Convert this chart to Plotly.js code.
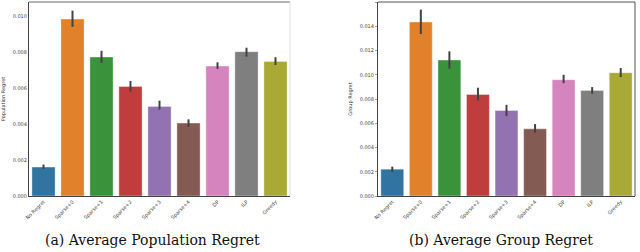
<!DOCTYPE html>
<html><head><meta charset="utf-8">
<script src="https://cdn.plot.ly/plotly-3.0.1.min.js"></script>
<style>html,body{margin:0;padding:0;background:#fff}#c{width:640px;height:252px}</style>
</head><body><div id="c"></div>
<script>
const categories = ["No Regret","Sparse+0","Sparse+1","Sparse+2","Sparse+3","Sparse+4","DP","ILP","Greedy"];
const colors = ["#3274a1","#e1812c","#3a923a","#c03d3e","#9372b2","#845b53","#d684bd","#7f7f7f","#a9aa35"];
const popMean = [0.00161,0.00983,0.00772,0.00609,0.00498,0.00405,0.00722,0.00802,0.00748];
const popHi   = [0.00175,0.01030,0.00807,0.00639,0.00530,0.00426,0.00743,0.00824,0.00771];
const popLo   = [0.00150,0.00940,0.00740,0.00580,0.00480,0.00385,0.00706,0.00774,0.00728];
const grpMean = [0.00221,0.01435,0.01121,0.00837,0.00705,0.00554,0.00959,0.00870,0.01017];
const grpHi   = [0.00242,0.01537,0.01193,0.00893,0.00752,0.00593,0.01000,0.00898,0.01055];
const grpLo   = [0.00198,0.01336,0.01050,0.00788,0.00659,0.00523,0.00931,0.00843,0.00981];
const popTicks = [0,0.002,0.004,0.006,0.008,0.010];
const grpTicks = [0,0.002,0.004,0.006,0.008,0.010,0.012,0.014,0.016];

function bar(mean, hi, lo, xa, ya){
  return {type:'bar', x:categories, y:mean, xaxis:xa, yaxis:ya,
    marker:{color:colors, line:{color:'rgba(255,255,255,0.6)', width:0.6}},
    width:0.8,
    error_y:{type:'data', symmetric:false,
      array:hi.map((h,i)=>h-mean[i]), arrayminus:mean.map((m,i)=>m-lo[i]),
      color:'#424242', thickness:2, width:0},
    hoverinfo:'none'};
}
const tickFont = {family:'DejaVu Sans, sans-serif', size:5, color:'#444'};
const axX = (dom, anchor)=>({domain:dom, anchor:anchor, type:'category', tickangle:-45,
  tickfont:tickFont, showline:true, linecolor:'#444', linewidth:1, mirror:false,
  ticks:'', showgrid:false, zeroline:false, range:[-0.5,8.5], fixedrange:true});
const axY = (dom, anchor, rng, tv, ttl, ticklen)=>({domain:dom, anchor:anchor, range:rng,
  tickvals:tv, ticktext:tv.map(v=>v.toFixed(3)), tickfont:tickFont,
  showline:true, linecolor:'#444', linewidth:1, showgrid:false, zeroline:false,
  ticks: ticklen? 'outside':'', ticklen:ticklen, tickcolor:'#666', tickwidth:0.6,
  title:{text:ttl, font:{family:'DejaVu Sans, sans-serif', size:5, color:'#333'}, standoff:6}});

const layout = {
  width:640, height:252, margin:{l:0,r:0,t:0,b:0}, showlegend:false,
  paper_bgcolor:'#fff', plot_bgcolor:'#fff', bargap:0.2,
  xaxis: axX([29/640, 290/640], 'y'),
  yaxis: axY([1-196/252, 1-2/252], 'x', [0,0.01078], popTicks, 'Population Regret', 0),
  xaxis2: axX([378/640, 635/640], 'y2'),
  yaxis2: axY([1-196/252, 1-2/252], 'x2', [0,0.016], grpTicks, 'Group Regret', 2),
  shapes:[
    {type:'line', xref:'paper', yref:'paper', x0:29/640, x1:290/640, y0:1-2/252, y1:1-2/252, line:{color:'#666', width:1}},
    {type:'line', xref:'paper', yref:'paper', x0:290/640, x1:290/640, y0:1-2/252, y1:1-196/252, line:{color:'#ddd', width:1}},
    {type:'line', xref:'paper', yref:'paper', x0:378/640, x1:635/640, y0:1-2/252, y1:1-2/252, line:{color:'#555', width:1}},
    {type:'line', xref:'paper', yref:'paper', x0:635/640, x1:635/640, y0:1-2/252, y1:1-196/252, line:{color:'#555', width:1}}
  ],
  annotations:[
    {xref:'paper', yref:'paper', x:152.5/640, y:1-240/252, text:'(a) Average Population Regret', showarrow:false,
     font:{family:'DejaVu Serif, Liberation Serif, serif', size:14, color:'#111'}, xanchor:'center', yanchor:'middle'},
    {xref:'paper', yref:'paper', x:501/640, y:1-240/252, text:'(b) Average Group Regret', showarrow:false,
     font:{family:'DejaVu Serif, Liberation Serif, serif', size:14, color:'#111'}, xanchor:'center', yanchor:'middle'}
  ]
};
Plotly.newPlot('c', [bar(popMean,popHi,popLo,'x','y'), bar(grpMean,grpHi,grpLo,'x2','y2')], layout, {staticPlot:true, displayModeBar:false});
</script></body></html>
